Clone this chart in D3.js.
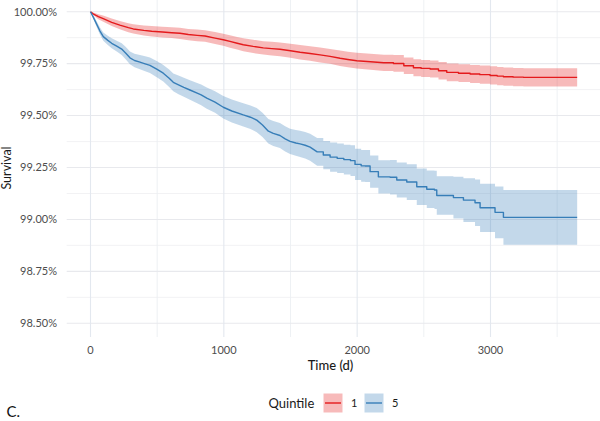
<!DOCTYPE html>
<html>
<head>
<meta charset="utf-8">
<script src="https://cdn.jsdelivr.net/npm/d3@7"></script>
<style>
  html, body { margin: 0; padding: 0; background: #fff; }
  svg { display: block; }
  text { font-family: Lato, "Open Sans", sans-serif; }
</style>
</head>
<body>
<svg id="chart" width="600" height="421"></svg>
<script>
// ---- Data (survival in %) ----
const groups = ["1", "5"];
const legendTitle = "Quintile";
const xTicks = [0, 1000, 2000, 3000];
const xMinor = [500, 1500, 2500, 3500];
const yTicks = [98.5, 98.75, 99.0, 99.25, 99.5, 99.75, 100.0];
const yMinor = [98.625, 98.875, 99.125, 99.375, 99.625, 99.875];

const q1Time  = [0, 20, 59, 100, 159, 220, 284, 321, 400, 459, 540, 609, 671, 734, 800, 859, 934, 996, 1046, 1100, 1146, 1220, 1296, 1360, 1421, 1500, 1572, 1647, 1722, 1797, 1872, 1930, 1997, 2100, 2200, 2272, 2350, 2422, 2480, 2547, 2610, 2672, 2760, 2847, 2920, 2997, 3050, 3097, 3170, 3247, 3650];
const q1Surv  = [100, 99.990, 99.976, 99.965, 99.949, 99.935, 99.923, 99.917, 99.910, 99.906, 99.902, 99.899, 99.896, 99.890, 99.886, 99.883, 99.873, 99.865, 99.857, 99.848, 99.841, 99.833, 99.826, 99.822, 99.819, 99.812, 99.805, 99.799, 99.792, 99.785, 99.776, 99.770, 99.764, 99.759, 99.754, 99.751, 99.740, 99.730, 99.727, 99.724, 99.716, 99.708, 99.704, 99.700, 99.697, 99.693, 99.690, 99.687, 99.685, 99.684, 99.684];
const q1Lower = [100, 99.984, 99.964, 99.950, 99.931, 99.915, 99.901, 99.895, 99.886, 99.881, 99.876, 99.873, 99.869, 99.863, 99.858, 99.855, 99.844, 99.836, 99.827, 99.818, 99.810, 99.801, 99.794, 99.789, 99.786, 99.778, 99.770, 99.764, 99.756, 99.749, 99.739, 99.733, 99.726, 99.720, 99.715, 99.711, 99.700, 99.689, 99.686, 99.683, 99.674, 99.665, 99.661, 99.657, 99.653, 99.649, 99.646, 99.643, 99.641, 99.640, 99.640];
const q1Upper = [100, 99.996, 99.988, 99.980, 99.967, 99.955, 99.945, 99.939, 99.934, 99.931, 99.928, 99.925, 99.923, 99.917, 99.914, 99.911, 99.902, 99.894, 99.887, 99.878, 99.872, 99.865, 99.858, 99.855, 99.852, 99.846, 99.840, 99.834, 99.828, 99.821, 99.813, 99.807, 99.802, 99.798, 99.793, 99.791, 99.780, 99.771, 99.768, 99.765, 99.758, 99.751, 99.747, 99.743, 99.741, 99.737, 99.734, 99.731, 99.729, 99.728, 99.728];

const q5Time  = [0, 20, 46, 70, 96, 130, 159, 200, 234, 265, 296, 330, 371, 410, 446, 500, 546, 590, 621, 660, 700, 746, 800, 830, 872, 934, 996, 1060, 1146, 1200, 1247, 1290, 1334, 1371, 1421, 1460, 1497, 1540, 1572, 1610, 1647, 1700, 1746, 1797, 1850, 1900, 1950, 1984, 2030, 2060, 2097, 2159, 2247, 2297, 2372, 2447, 2522, 2580, 2597, 2722, 2797, 2884, 2922, 3034, 3097, 3650];
const q5Surv  = [100, 99.975, 99.940, 99.908, 99.880, 99.862, 99.848, 99.833, 99.820, 99.800, 99.778, 99.765, 99.757, 99.749, 99.742, 99.722, 99.704, 99.680, 99.660, 99.648, 99.636, 99.623, 99.608, 99.600, 99.584, 99.565, 99.540, 99.522, 99.503, 99.492, 99.478, 99.455, 99.425, 99.414, 99.404, 99.388, 99.376, 99.368, 99.364, 99.357, 99.348, 99.325, 99.310, 99.300, 99.294, 99.288, 99.283, 99.265, 99.258, 99.257, 99.230, 99.205, 99.203, 99.190, 99.180, 99.157, 99.145, 99.142, 99.115, 99.105, 99.093, 99.080, 99.056, 99.034, 99.010, 99.010];
const q5Lower = [100, 99.967, 99.926, 99.891, 99.860, 99.840, 99.824, 99.807, 99.792, 99.770, 99.747, 99.733, 99.723, 99.713, 99.705, 99.683, 99.664, 99.638, 99.617, 99.603, 99.590, 99.576, 99.559, 99.550, 99.533, 99.513, 99.486, 99.467, 99.447, 99.435, 99.420, 99.397, 99.366, 99.354, 99.344, 99.327, 99.315, 99.306, 99.301, 99.293, 99.283, 99.258, 99.242, 99.230, 99.223, 99.216, 99.209, 99.190, 99.182, 99.180, 99.152, 99.125, 99.120, 99.106, 99.094, 99.069, 99.055, 99.050, 99.022, 99.004, 98.988, 98.968, 98.940, 98.909, 98.878, 98.878];
const q5Upper = [100, 99.983, 99.954, 99.925, 99.900, 99.884, 99.872, 99.859, 99.848, 99.830, 99.809, 99.797, 99.791, 99.785, 99.779, 99.761, 99.744, 99.722, 99.703, 99.693, 99.682, 99.670, 99.657, 99.650, 99.635, 99.617, 99.594, 99.577, 99.559, 99.549, 99.536, 99.513, 99.484, 99.474, 99.464, 99.449, 99.437, 99.430, 99.427, 99.421, 99.413, 99.392, 99.378, 99.370, 99.365, 99.360, 99.357, 99.340, 99.334, 99.334, 99.308, 99.285, 99.286, 99.274, 99.266, 99.245, 99.235, 99.234, 99.208, 99.206, 99.198, 99.192, 99.172, 99.159, 99.142, 99.142];

// time from which the (sparser) Kaplan-Meier steps become visible
const stepFrom = { "1": 2200, "5": 1700 };
const colors = { "1": "#E41A1C", "5": "#377EB8" };

// ---- Build series (insert horizontal step corners after stepFrom) ----
function build(t, s, lo, hi, from) {
  const out = [];
  t.forEach((d, i) => {
    if (i > 0 && d > from) {
      out.push({ t: d, s: s[i - 1], lo: lo[i - 1], hi: hi[i - 1] });
    }
    out.push({ t: d, s: s[i], lo: lo[i], hi: hi[i] });
  });
  return out;
}
const series = [
  { key: "1", values: build(q1Time, q1Surv, q1Lower, q1Upper, stepFrom["1"]) },
  { key: "5", values: build(q5Time, q5Surv, q5Lower, q5Upper, stepFrom["5"]) }
];

// ---- Layout ----
const svg = d3.select("#chart");
const panel = { left: 66.7, right: 600, top: 0, bottom: 337 };

const x = d3.scaleLinear().domain([0, 3500]).range([90.5, 90.5 + 3500 * 0.13333]);
const y = d3.scaleLinear().domain([98.5, 100]).range([323.3, 11.7]);

const g = svg.append("g");

// grid
g.selectAll(".ymin").data(yMinor).enter().append("line")
  .attr("x1", panel.left).attr("x2", panel.right)
  .attr("y1", d => y(d)).attr("y2", d => y(d))
  .attr("stroke", "#F0F1F3").attr("stroke-width", 0.9);
g.selectAll(".xmin").data(xMinor).enter().append("line")
  .attr("y1", panel.top).attr("y2", panel.bottom)
  .attr("x1", d => x(d)).attr("x2", d => x(d))
  .attr("stroke", "#ECEFF3").attr("stroke-width", 0.9);
g.selectAll(".ymaj").data(yTicks).enter().append("line")
  .attr("x1", panel.left).attr("x2", panel.right)
  .attr("y1", d => y(d)).attr("y2", d => y(d))
  .attr("stroke", "#E8E9ED").attr("stroke-width", 1.1);
g.selectAll(".xmaj").data(xTicks).enter().append("line")
  .attr("y1", panel.top).attr("y2", panel.bottom)
  .attr("x1", d => x(d)).attr("x2", d => x(d))
  .attr("stroke", "#E3E8EF").attr("stroke-width", 1.1);

// ribbons and lines
const area = d3.area().curve(d3.curveLinear)
  .x(d => x(d.t)).y0(d => y(d.lo)).y1(d => y(d.hi));
const line = d3.line().curve(d3.curveLinear)
  .x(d => x(d.t)).y(d => y(d.s));

series.forEach(sr => {
  g.append("path").datum(sr.values)
    .attr("d", area)
    .attr("fill", colors[sr.key]).attr("fill-opacity", 0.3).attr("stroke", "none");
});
series.forEach(sr => {
  g.append("path").datum(sr.values)
    .attr("d", line)
    .attr("fill", "none").attr("stroke", colors[sr.key]).attr("stroke-width", 1.4)
    .attr("stroke-linejoin", "round");
});

// axes labels
const fmtPct = d => d.toFixed(2) + "%";
g.selectAll(".ylab").data(yTicks).enter().append("text")
  .attr("x", 57).attr("y", d => y(d)).attr("dy", "0.35em")
  .attr("text-anchor", "end").attr("font-size", 11).attr("fill", "#4D4D4D")
  .text(fmtPct);
g.selectAll(".xlab").data(xTicks).enter().append("text")
  .attr("x", d => x(d)).attr("y", 349.7).attr("dy", "0.35em")
  .attr("text-anchor", "middle").attr("font-size", 11).attr("fill", "#4D4D4D")
  .text(d => d);

svg.append("text").attr("x", 330.5).attr("y", 365).attr("dy", "0.35em")
  .attr("text-anchor", "middle").attr("font-size", 13).attr("font-weight", 500)
  .attr("fill", "#1a1a1a").text("Time (d)");
svg.append("text").attr("transform", "translate(11,168) rotate(-90)")
  .attr("text-anchor", "middle").attr("font-size", 12.5).attr("fill", "#1a1a1a")
  .text("Survival");

// legend
const lg = svg.append("g");
lg.append("text").attr("x", 314.3).attr("y", 403).attr("dy", "0.35em")
  .attr("text-anchor", "end").attr("font-size", 13).attr("fill", "#1a1a1a").text(legendTitle);
const keyX = { "1": 323.5, "5": 364.5 };
groups.forEach(k => {
  lg.append("rect").attr("x", keyX[k]).attr("y", 393.5).attr("width", 19).attr("height", 19)
    .attr("fill", colors[k]).attr("fill-opacity", 0.3);
  lg.append("line").attr("x1", keyX[k] + 1.5).attr("x2", keyX[k] + 17.5)
    .attr("y1", 403).attr("y2", 403).attr("stroke", colors[k]).attr("stroke-width", 1.4);
  lg.append("text").attr("x", keyX[k] + 27.5).attr("y", 403).attr("dy", "0.35em")
    .attr("font-size", 11).attr("fill", "#1a1a1a").text(k);
});

svg.append("text").attr("x", 6.5).attr("y", 417).attr("font-size", 15)
  .attr("fill", "#111").text("C.");
</script>
</body>
</html>
